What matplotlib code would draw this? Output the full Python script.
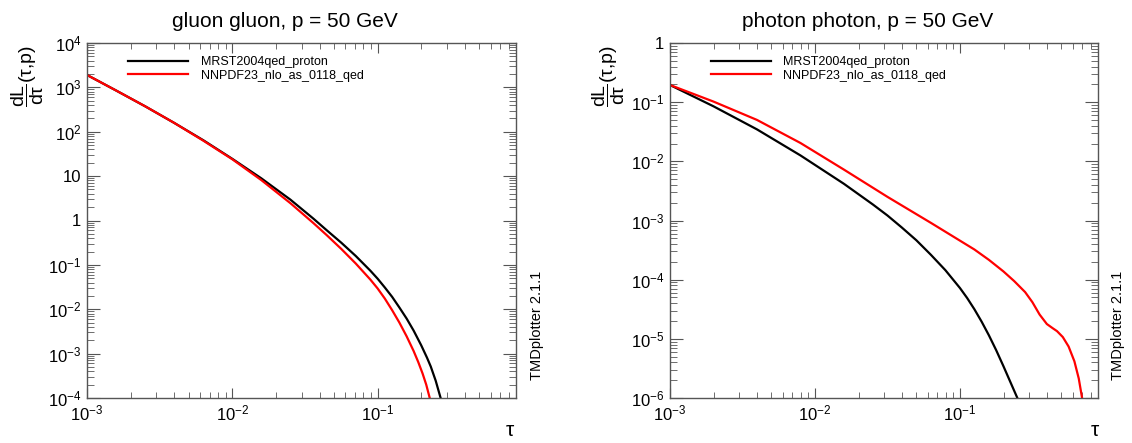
import numpy as np
import matplotlib
matplotlib.use('Agg')
import matplotlib.pyplot as plt
from matplotlib.ticker import FixedLocator, FixedFormatter, LogLocator, NullFormatter

plt.rcParams['font.family'] = ['Liberation Sans', 'DejaVu Sans']
plt.rcParams['mathtext.fontset'] = 'custom'
plt.rcParams['mathtext.rm'] = 'Liberation Sans'
plt.rcParams['mathtext.it'] = 'Liberation Sans:italic'
plt.rcParams['mathtext.default'] = 'regular'

# curves, as log10 values
gg_mrst_logtau = [-3.0, -2.8, -2.6, -2.4, -2.2, -2.0, -1.8, -1.6, -1.441, -1.35, -1.25, -1.15, -1.05,
                  -1.0, -0.95, -0.9, -0.85, -0.8, -0.752, -0.7, -0.66, -0.634, -0.6, -0.566]
gg_mrst_logL = [3.28, 2.93, 2.574, 2.20, 1.81, 1.39, 0.95, 0.47, 0.04, -0.22, -0.50, -0.80, -1.13,
                -1.31, -1.51, -1.72, -1.96, -2.21, -2.48, -2.81, -3.09, -3.29, -3.61, -4.0]
gg_nnpdf_logtau = [-3.0, -2.8, -2.6, -2.4, -2.2, -2.0, -1.8, -1.6, -1.441, -1.35, -1.25, -1.15, -1.05,
                   -1.0, -0.95, -0.9, -0.85, -0.8, -0.752, -0.72, -0.69, -0.665, -0.641]
gg_nnpdf_logL = [3.28, 2.93, 2.574, 2.20, 1.80, 1.38, 0.91, 0.39, -0.06, -0.33, -0.64, -0.97, -1.33,
                 -1.53, -1.76, -2.02, -2.30, -2.61, -2.94, -3.19, -3.45, -3.70, -4.0]

aa_mrst_logtau = [-3.0, -2.7, -2.4, -2.1, -1.8, -1.6, -1.5, -1.4, -1.3, -1.2, -1.1, -1.0, -0.95,
                  -0.9, -0.85, -0.8, -0.75, -0.7, -0.65, -0.6]
aa_mrst_logL = [-0.71, -1.07, -1.46, -1.90, -2.38, -2.73, -2.915, -3.12, -3.335, -3.58, -3.84, -4.14, -4.31,
                -4.50, -4.71, -4.94, -5.19, -5.46, -5.74, -6.02]
aa_nnpdf_logtau = [-3.0, -2.7, -2.4, -2.1, -1.8, -1.5, -1.2, -0.9, -0.8, -0.7, -0.625, -0.55, -0.5,
                   -0.45, -0.40, -0.36, -0.33, -0.29, -0.25, -0.21, -0.18, -0.157]
aa_nnpdf_logL = [-0.71, -0.99, -1.30, -1.69, -2.14, -2.60, -3.04, -3.49, -3.665, -3.86, -4.025, -4.21, -4.38,
                 -4.59, -4.75, -4.82, -4.87, -4.97, -5.13, -5.38, -5.67, -6.0]

labels = ['MRST2004qed_proton', 'NNPDF23_nlo_as_0118_qed']
titles = ['gluon gluon, p = 50 GeV', 'photon photon, p = 50 GeV']

x_ticks = [1e-3, 1e-2, 1e-1]
x_labels = [r'$10^{-3}$', r'$10^{-2}$', r'$10^{-1}$']
gg_yticks = [1e-4, 1e-3, 1e-2, 1e-1, 1, 10, 1e2, 1e3, 1e4]
gg_ylabels = [r'$10^{-4}$', r'$10^{-3}$', r'$10^{-2}$', r'$10^{-1}$', '1', '10', r'$10^{2}$', r'$10^{3}$', r'$10^{4}$']
aa_yticks = [1e-6, 1e-5, 1e-4, 1e-3, 1e-2, 1e-1, 1]
aa_ylabels = [r'$10^{-6}$', r'$10^{-5}$', r'$10^{-4}$', r'$10^{-3}$', r'$10^{-2}$', r'$10^{-1}$', '1']

W, H = 1132, 443
fig = plt.figure(figsize=(W / 100, H / 100), dpi=100)

frame_col = '#555555'
panels = [
    (87, 516, (1e-4, 1e4), gg_yticks, gg_ylabels,
     [(gg_mrst_logtau, gg_mrst_logL), (gg_nnpdf_logtau, gg_nnpdf_logL)], 285, 28, 510, 537),
    (670, 1098, (1e-6, 1), aa_yticks, aa_ylabels,
     [(aa_mrst_logtau, aa_mrst_logL), (aa_nnpdf_logtau, aa_nnpdf_logL)], 868, 609, 1095, 1118),
]

for i, (x0, x1, ylim, yt, ytl, curves, tx, ylx, xlx, tmdx) in enumerate(panels):
    ax = fig.add_axes([x0 / W, (H - 398) / H, (x1 - x0) / W, (398 - 43) / H])
    for (lt, ll), col, lab in zip(curves, ['black', 'red'], labels):
        ax.plot(np.power(10.0, lt), np.power(10.0, ll), color=col, lw=1.6, label=lab)
    ax.set_xscale('log')
    ax.set_yscale('log')
    ax.set_xlim(1e-3, 0.897)
    ax.set_ylim(*ylim)

    ax.xaxis.set_major_locator(FixedLocator(x_ticks))
    ax.xaxis.set_major_formatter(FixedFormatter(x_labels))
    ax.xaxis.set_minor_locator(LogLocator(subs=np.arange(2, 10), numticks=100))
    ax.xaxis.set_minor_formatter(NullFormatter())
    ax.yaxis.set_major_locator(FixedLocator(yt))
    ax.yaxis.set_major_formatter(FixedFormatter(ytl))
    ax.yaxis.set_minor_locator(LogLocator(subs=np.arange(2, 10), numticks=100))
    ax.yaxis.set_minor_formatter(NullFormatter())

    ax.tick_params(which='both', direction='in', top=True, right=True, color=frame_col,
                   labelsize=12, labelcolor='black')
    ax.tick_params(axis='x', which='major', length=7.5, pad=4)
    ax.tick_params(axis='x', which='minor', length=4.3)
    ax.tick_params(axis='y', which='major', length=9.5, pad=4)
    ax.tick_params(axis='y', which='minor', length=5)
    for s in ax.spines.values():
        s.set_color(frame_col)
        s.set_linewidth(1.0)

    ax.legend(loc='upper left', bbox_to_anchor=(41 / (x1 - x0), 1.0 - 13 / 355),
              frameon=False, fontsize=9, handlelength=4.8, handletextpad=1.0,
              labelspacing=0.12, borderpad=0, borderaxespad=0)

    fig.text(tx / W, 1 - 27 / H, titles[i], fontsize=15, ha='center', va='baseline')
    fig.text(ylx / W, 1 - 76 / H, r'$\dfrac{\mathrm{dL}}{\mathrm{d\tau}}\mathrm{(\tau{,}p)}$',
             fontsize=14, rotation=90, ha='center', va='center')
    fig.text(xlx / W, 1 - 431 / H, 'τ', fontsize=15, ha='center', va='center')
    fig.text(tmdx / W, 1 - 380 / H, 'TMDplotter 2.1.1', fontsize=10.5, rotation=90,
             ha='center', va='bottom')

fig.savefig('out.png', dpi=100)
